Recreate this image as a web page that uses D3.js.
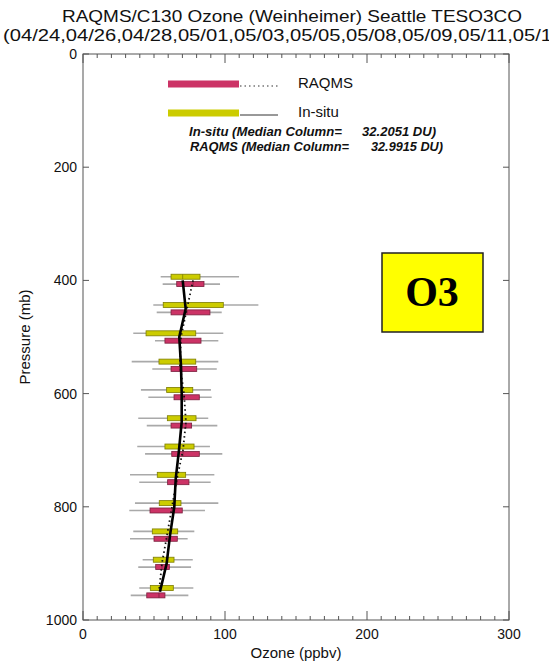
<!DOCTYPE html>
<html>
<head>
<meta charset="utf-8">
<script src="https://cdn.jsdelivr.net/npm/d3@7"></script>
<style>
  html, body { margin: 0; padding: 0; background: #fff; overflow: hidden; }
  svg { display: block; font-family: "Liberation Sans", Arial, sans-serif; }
</style>
</head>
<body>
<svg id="chart" width="549" height="661"></svg>
<script>
// Pressure levels (mb) of the binned profiles
const levels = [400, 450, 500, 550, 600, 650, 700, 750, 800, 850, 900, 950];

// In-situ ozone statistics per level (ppbv)
const insituMedian = [70.2, 72.3, 67.8, 69.0, 69.5, 69.5, 67.6, 65.3, 64.3, 61.3, 58.9, 54.2];
const insituQ1     = [62.0, 56.5, 44.4, 53.5, 58.9, 59.4, 57.7, 52.3, 53.7, 48.8, 49.5, 47.4];
const insituQ3     = [82.4, 98.8, 79.4, 79.4, 77.3, 79.6, 78.2, 72.3, 69.0, 66.7, 64.1, 63.6];
const insituLo     = [54.7, 49.5, 35.4, 34.3, 40.8, 38.9, 38.2, 33.1, 36.6, 35.4, 42.0, 39.6];
const insituHi     = [109.9, 123.5, 98.8, 95.3, 90.1, 88.2, 89.4, 92.5, 95.3, 78.4, 77.3, 77.7];

// RAQMS ozone statistics per level (ppbv)
const raqmsMedian = [77.5, 73.2, 69.0, 68.3, 71.1, 72.5, 70.4, 66.2, 62.7, 59.2, 55.6, 53.5];
const raqmsQ1     = [66.0, 62.0, 57.7, 62.0, 64.1, 62.0, 62.5, 59.6, 47.2, 50.0, 51.2, 44.9];
const raqmsQ3     = [85.2, 89.4, 83.1, 80.1, 81.9, 76.5, 81.9, 74.6, 69.9, 66.4, 60.8, 57.7];
const raqmsLo     = [56.1, 51.9, 50.7, 48.8, 46.0, 44.9, 43.7, 39.6, 32.6, 33.1, 38.9, 33.6];
const raqmsHi     = [96.5, 97.7, 95.3, 94.2, 90.6, 94.6, 98.1, 89.9, 85.9, 73.7, 76.1, 74.2];

// Axis ticks
const xMajorTicks = [0, 100, 200, 300];
const xMinorTicks = d3.range(0, 301, 10);
const yMajorTicks = [0, 200, 400, 600, 800, 1000];

// Header and annotation texts
const titleLines = [
  "RAQMS/C130 Ozone (Weinheimer) Seattle TESO3CO",
  "(04/24,04/26,04/28,05/01,05/03,05/05,05/08,05/09,05/11,05/1"
];
const seriesNames = ["RAQMS", "In-situ"];
const columnNotes = [
  ["In-situ (Median Column=", "32.2051 DU)"],
  ["RAQMS (Median Column=", "32.9915 DU)"]
];
const speciesLabel = "O3";

const svg = d3.select("#chart");

const margin = { left: 83, right: 509, top: 54, bottom: 620 };
const x = d3.scaleLinear().domain([0, 300]).range([margin.left, margin.right]);
const y = d3.scaleLinear().domain([0, 1000]).range([margin.top, margin.bottom]);

const YELLOW = "#cccc00", YELLOW_EDGE = "#7d7d00";
const PINK = "#cc3366", PINK_EDGE = "#7a1f3d";
const AXIS = "#555";

// Title
svg.append("text").attr("x", 62).attr("y", 22)
  .attr("font-size", 17).attr("textLength", 460).attr("lengthAdjust", "spacingAndGlyphs")
  .attr("fill", "#111").text(titleLines[0]);
svg.append("text").attr("x", 3).attr("y", 41)
  .attr("font-size", 17).attr("textLength", 549).attr("lengthAdjust", "spacingAndGlyphs")
  .attr("fill", "#111").text(titleLines[1]);

// Frame
svg.append("rect")
  .attr("x", x(0)).attr("y", y(0))
  .attr("width", x(300) - x(0)).attr("height", y(1000) - y(0))
  .attr("fill", "none").attr("stroke", AXIS).attr("stroke-width", 1);

// x ticks on bottom and top edges
const xt = svg.append("g").attr("stroke", AXIS).attr("stroke-width", 1);
xMinorTicks.forEach(v => {
  const len = xMajorTicks.includes(v) ? 9 : 4;
  xt.append("line").attr("x1", x(v)).attr("x2", x(v)).attr("y1", y(1000)).attr("y2", y(1000) - len);
  xt.append("line").attr("x1", x(v)).attr("x2", x(v)).attr("y1", y(0)).attr("y2", y(0) + len);
});
// y ticks on left and right edges
yMajorTicks.forEach(v => {
  xt.append("line").attr("x1", x(0)).attr("x2", x(0) + 6).attr("y1", y(v)).attr("y2", y(v));
  xt.append("line").attr("x1", x(300)).attr("x2", x(300) - 6).attr("y1", y(v)).attr("y2", y(v));
});

// Tick labels
svg.append("g").selectAll("text").data(xMajorTicks).join("text")
  .attr("x", d => x(d)).attr("y", 639).attr("text-anchor", "middle")
  .attr("font-size", 14).attr("fill", "#111").text(d => d);
svg.append("g").selectAll("text").data(yMajorTicks).join("text")
  .attr("x", 77).attr("y", d => y(d) + 5).attr("text-anchor", "end")
  .attr("font-size", 14).attr("fill", "#111").text(d => d);

// Axis titles
svg.append("text").attr("x", 296).attr("y", 658).attr("text-anchor", "middle")
  .attr("font-size", 15).attr("fill", "#111").text("Ozone (ppbv)");
svg.append("text").attr("transform", "translate(30,337) rotate(-90)").attr("text-anchor", "middle")
  .attr("font-size", 15).attr("fill", "#111").text("Pressure (mb)");

// Box-and-whisker rows: in-situ sits just above each level, RAQMS just below
const OFFSET = 6.5;       // mb
const BOX_H = 5;          // px
function drawSeries(lo, hi, q1, q3, med, dp, fill, edge) {
  const g = svg.append("g");
  levels.forEach((p, i) => {
    const cy = y(p + dp);
    g.append("line").attr("x1", x(lo[i])).attr("x2", x(hi[i]))
      .attr("y1", cy).attr("y2", cy)
      .attr("stroke", "#a9a9a9").attr("stroke-width", 1.6);
    g.append("rect").attr("x", x(q1[i])).attr("y", cy - BOX_H / 2)
      .attr("width", x(q3[i]) - x(q1[i])).attr("height", BOX_H)
      .attr("fill", fill).attr("stroke", edge).attr("stroke-width", 0.8);
    g.append("line").attr("x1", x(med[i])).attr("x2", x(med[i]))
      .attr("y1", cy - BOX_H / 2).attr("y2", cy + BOX_H / 2)
      .attr("stroke", edge).attr("stroke-width", 0.8);
  });
}
drawSeries(insituLo, insituHi, insituQ1, insituQ3, insituMedian, -OFFSET, YELLOW, YELLOW_EDGE);
drawSeries(raqmsLo, raqmsHi, raqmsQ1, raqmsQ3, raqmsMedian, OFFSET, PINK, PINK_EDGE);

// Median profiles
const line = d3.line().x(d => x(d[0])).y(d => y(d[1]));
svg.append("path").datum(levels.map((p, i) => [raqmsMedian[i], p]))
  .attr("d", line).attr("fill", "none").attr("stroke", "#111")
  .attr("stroke-width", 1.8).attr("stroke-dasharray", "1.5,3");
svg.append("path").datum(levels.map((p, i) => [insituMedian[i], p]))
  .attr("d", line).attr("fill", "none").attr("stroke", "#000")
  .attr("stroke-width", 2.6);

// Legend
const legend = svg.append("g");
const lx0 = 168, lx1 = 239, lx2 = 278;
[[84, PINK, "1.5,3", seriesNames[0]], [113, YELLOW, null, seriesNames[1]]].forEach(([ly, col, dash, name]) => {
  legend.append("line").attr("x1", lx0).attr("x2", lx1).attr("y1", ly).attr("y2", ly)
    .attr("stroke", col).attr("stroke-width", 7);
  const l = legend.append("line").attr("x1", lx1 + 1).attr("x2", lx2).attr("y1", ly + 2).attr("y2", ly + 2)
    .attr("stroke", "#333").attr("stroke-width", 1);
  if (dash) l.attr("stroke-dasharray", dash).attr("stroke-width", 1.2);
  legend.append("text").attr("x", 298).attr("y", ly + 4).attr("font-size", 15)
    .attr("fill", "#111").text(name);
});

// Median column notes
[[189, 362, 136, 153, 74], [190, 371, 151, 159, 72]].forEach(([ax, bx, by, aw, bw], i) => {
  svg.append("text").attr("x", ax).attr("y", by).attr("font-size", 13)
    .attr("font-weight", "bold").attr("font-style", "italic")
    .attr("textLength", aw).attr("lengthAdjust", "spacingAndGlyphs")
    .attr("fill", "#111").text(columnNotes[i][0]);
  svg.append("text").attr("x", bx).attr("y", by).attr("font-size", 13)
    .attr("font-weight", "bold").attr("font-style", "italic")
    .attr("textLength", bw).attr("lengthAdjust", "spacingAndGlyphs")
    .attr("fill", "#111").text(columnNotes[i][1]);
});

// Species badge
svg.append("rect").attr("x", 382).attr("y", 253).attr("width", 101).attr("height", 79)
  .attr("fill", "#ffff00").attr("stroke", "#222").attr("stroke-width", 1.5);
svg.append("text").attr("x", 432).attr("y", 306).attr("text-anchor", "middle")
  .attr("font-family", "'Liberation Serif', 'Times New Roman', serif")
  .attr("font-weight", "bold").attr("font-size", 42).attr("fill", "#000")
  .text(speciesLabel);
</script>
</body>
</html>
